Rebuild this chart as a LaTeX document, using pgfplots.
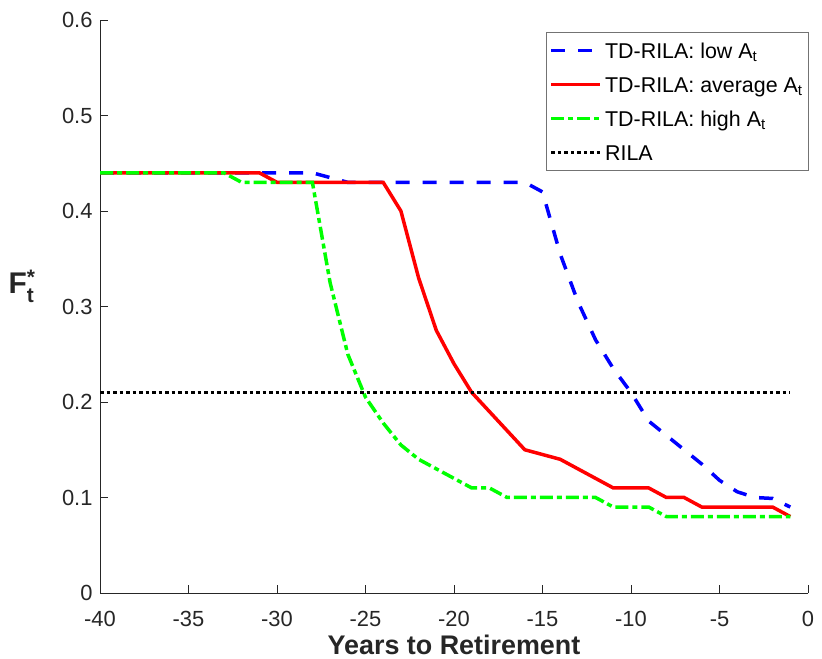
\documentclass[border=0pt]{standalone}
\usepackage{fontspec}
\setmainfont{Liberation Sans}
\usepackage{amsmath}
\usepackage{pgfplots}
\pgfplotsset{compat=1.18}

\definecolor{axgray}{rgb}{0.15,0.15,0.15}

\begin{document}
\begin{tikzpicture}
\useasboundingbox (0,0) rectangle (822bp,659bp);
\begin{axis}[
  at={(100bp,66bp)}, anchor=south west,
  scale only axis, width=708bp, height=573bp,
  xmin=-40, xmax=0, ymin=0, ymax=0.6,
  axis x line*=bottom, axis y line*=left,
  axis line style={axgray, line width=0.8bp},
  xtick={-40,-35,-30,-25,-20,-15,-10,-5,0},
  ytick={0,0.1,0.2,0.3,0.4,0.5,0.6},
  xticklabels={-40,-35,-30,-25,-20,-15,-10,-5,0},
  yticklabels={0,0.1,0.2,0.3,0.4,0.5,0.6},
  tick style={axgray, line width=0.8bp},
  major tick length=8bp,
  tick label style={font=\fontsize{22}{26}\selectfont, text=axgray},
  xticklabel style={anchor=base, yshift=-33bp},
  yticklabel style={xshift=-4bp},
  xlabel={Years to Retirement},
  xlabel style={at={(rel axis cs:0.5,-0.107)}, anchor=base,
    font=\fontsize{27}{32}\selectfont\bfseries, text=axgray},
  ylabel={F$^{\text{\bfseries *}}_{\text{\bfseries t}}$},
  ylabel style={at={(rel axis cs:-0.11,0.535)}, rotate=-90, anchor=center,
    font=\fontsize{30}{34}\selectfont\bfseries, text=axgray},
  legend image code/.code={\draw[#1] (0bp,0bp) -- (49bp,0bp);},
  legend style={at={(rel axis cs:1.0014,0.979)}, anchor=north east,
    draw=black!55, line width=0.7bp, fill=white,
    font=\fontsize{21.5}{26}\selectfont,
    inner xsep=3bp, inner ysep=1bp, row sep=0bp,
    cells={anchor=west},
    nodes={inner sep=3bp, text height=22bp, text depth=6bp}},
]
% TD-RILA: low A_t
\addplot [color=blue, line width=3.5bp, dash pattern=on 14bp off 13bp] coordinates {
  (-40,0.44) (-39,0.44) (-38,0.44) (-37,0.44) (-36,0.44) (-35,0.44) (-34,0.44)
  (-33,0.44) (-32,0.44) (-31,0.44) (-30,0.44) (-29,0.44) (-28,0.44) (-27,0.435)
  (-26,0.43) (-25,0.43) (-24,0.43) (-23,0.43) (-22,0.43) (-21,0.43) (-20,0.43)
  (-19,0.43) (-18,0.43) (-17,0.43) (-16,0.43) (-15,0.42) (-14,0.355) (-13,0.305)
  (-12,0.265) (-11,0.235) (-10,0.21) (-9,0.18) (-8,0.165) (-7,0.15) (-6,0.135)
  (-5,0.118) (-4,0.106) (-3,0.10) (-2,0.099) (-1,0.09)
};
% TD-RILA: average A_t
\addplot [color=red, line width=3.5bp] coordinates {
  (-40,0.44) (-39,0.44) (-38,0.44) (-37,0.44) (-36,0.44) (-35,0.44) (-34,0.44)
  (-33,0.44) (-32,0.44) (-31,0.44) (-30,0.43) (-29,0.43) (-28,0.43) (-27,0.43)
  (-26,0.43) (-25,0.43) (-24,0.43) (-23,0.40) (-22,0.33) (-21,0.275) (-20,0.24)
  (-19,0.21) (-18,0.19) (-17,0.17) (-16,0.15) (-15,0.145) (-14,0.14) (-13,0.13)
  (-12,0.12) (-11,0.11) (-10,0.11) (-9,0.11) (-8,0.10) (-7,0.10) (-6,0.09)
  (-5,0.09) (-4,0.09) (-3,0.09) (-2,0.09) (-1,0.08)
};
% TD-RILA: high A_t
\addplot [color=green, line width=3.5bp, dash pattern=on 13bp off 4bp on 5bp off 4bp] coordinates {
  (-40,0.44) (-39,0.44) (-38,0.44) (-37,0.44) (-36,0.44) (-35,0.44) (-34,0.44)
  (-33,0.44) (-32,0.43) (-31,0.43) (-30,0.43) (-29,0.43) (-28,0.43) (-27,0.325)
  (-26,0.25) (-25,0.205) (-24,0.178) (-23,0.155) (-22,0.14) (-21,0.13) (-20,0.12)
  (-19,0.11) (-18,0.11) (-17,0.10) (-16,0.10) (-15,0.10) (-14,0.10) (-13,0.10)
  (-12,0.10) (-11,0.09) (-10,0.09) (-9,0.09) (-8,0.08) (-7,0.08) (-6,0.08)
  (-5,0.08) (-4,0.08) (-3,0.08) (-2,0.08) (-1,0.08)
};
% RILA
\addplot [color=black, line width=3.5bp, dash pattern=on 3.5bp off 3bp] coordinates {
  (-40,0.21) (-1,0.21)
};
\addlegendentry{TD-RILA: low A\textsubscript{t}}
\addlegendentry{TD-RILA: average A\textsubscript{t}}
\addlegendentry{TD-RILA: high A\textsubscript{t}}
\addlegendentry{RILA}
\end{axis}
\end{tikzpicture}
\end{document}
